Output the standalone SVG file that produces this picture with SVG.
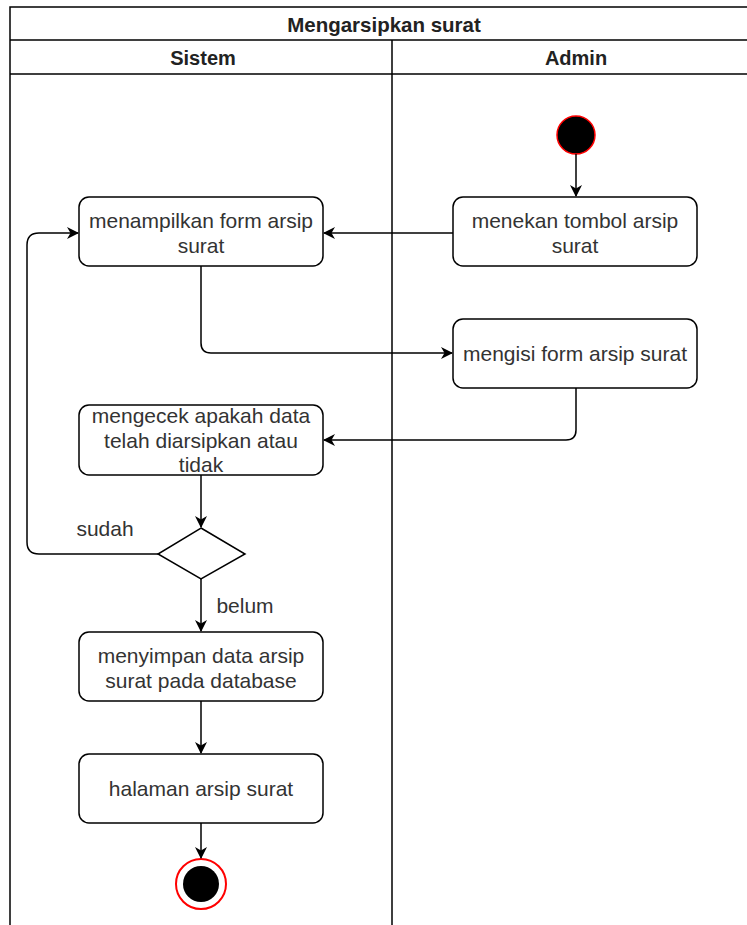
<svg xmlns="http://www.w3.org/2000/svg" width="747" height="925" viewBox="0 0 747 925">
<defs>
<style>
.lane{fill:none;stroke:#000;stroke-width:1.5}
.box{fill:#fff;stroke:#000;stroke-width:1.5}
.t{font-family:"Liberation Sans",Arial,sans-serif;font-size:21px;fill:#333;text-anchor:middle}
.h{font-family:"Liberation Sans",Arial,sans-serif;font-size:20px;font-weight:bold;fill:#222;text-anchor:middle}
.e{fill:none;stroke:#000;stroke-width:1.5}
</style>
<marker id="ar" viewBox="0 0 12 12" refX="11" refY="6" markerWidth="12" markerHeight="12" markerUnits="userSpaceOnUse" orient="auto">
<path d="M0,0 L12,6 L0,12 L3.5,6 Z" fill="#000"/>
</marker>
</defs>
<rect width="747" height="925" fill="#fff"/>
<g id="pool">
<path class="lane" d="M747,7 H10 V925 M10,40 H747 M10,74 H747 M392,40 V925"/>
<text class="h" x="384" y="32" style="font-size:20.5px">Mengarsipkan surat</text>
<text class="h" x="203" y="65">Sistem</text>
<text class="h" x="576" y="65">Admin</text>
</g>
<g id="start"><circle cx="576" cy="135" r="19" fill="#000" stroke="#f00" stroke-width="1.5"/></g>
<g id="n1"><rect class="box" x="453" y="197" width="244" height="69" rx="10"/><text class="t" x="575" y="228">menekan tombol arsip</text><text class="t" x="575" y="253">surat</text></g>
<g id="n2"><rect class="box" x="79" y="197" width="244" height="69" rx="10"/><text class="t" x="201" y="228">menampilkan form arsip</text><text class="t" x="201" y="253">surat</text></g>
<g id="n3"><rect class="box" x="453" y="319" width="244" height="69" rx="10"/><text class="t" x="575" y="361">mengisi form arsip surat</text></g>
<g id="n4"><rect class="box" x="79" y="405" width="244" height="70" rx="10"/><text class="t" x="201" y="423">mengecek apakah data</text><text class="t" x="201" y="448">telah diarsipkan atau</text><text class="t" x="201" y="472">tidak</text></g>
<g id="d1"><path class="box" d="M201,528 L245,554 L201,579 L158,554 Z"/></g>
<g id="n5"><rect class="box" x="79" y="632" width="244" height="69" rx="10"/><text class="t" x="201" y="663">menyimpan data arsip</text><text class="t" x="201" y="688">surat pada database</text></g>
<g id="n6"><rect class="box" x="79" y="754" width="244" height="69" rx="10"/><text class="t" x="201" y="796">halaman arsip surat</text></g>
<g id="end"><circle cx="201" cy="884" r="25" fill="#fff" stroke="#f00" stroke-width="2"/><circle cx="201" cy="884" r="18" fill="#000"/></g>
<g id="edges">
<path class="e" d="M576,154 V196" marker-end="url(#ar)"/>
<path class="e" d="M453,233 H324" marker-end="url(#ar)"/>
<path class="e" d="M201,266 V343 Q201,353 211,353 H452" marker-end="url(#ar)"/>
<path class="e" d="M576,388 V430 Q576,440 566,440 H324" marker-end="url(#ar)"/>
<path class="e" d="M201,475 V527" marker-end="url(#ar)"/>
<path class="e" d="M158,554 H39 Q27,554 27,542 V245 Q27,233 39,233 H78" marker-end="url(#ar)"/>
<path class="e" d="M201,579 V631" marker-end="url(#ar)"/>
<path class="e" d="M201,701 V753" marker-end="url(#ar)"/>
<path class="e" d="M201,823 V858" marker-end="url(#ar)"/>
<text class="t" x="105" y="536">sudah</text>
<text class="t" x="245" y="613">belum</text>
</g>
</svg>
